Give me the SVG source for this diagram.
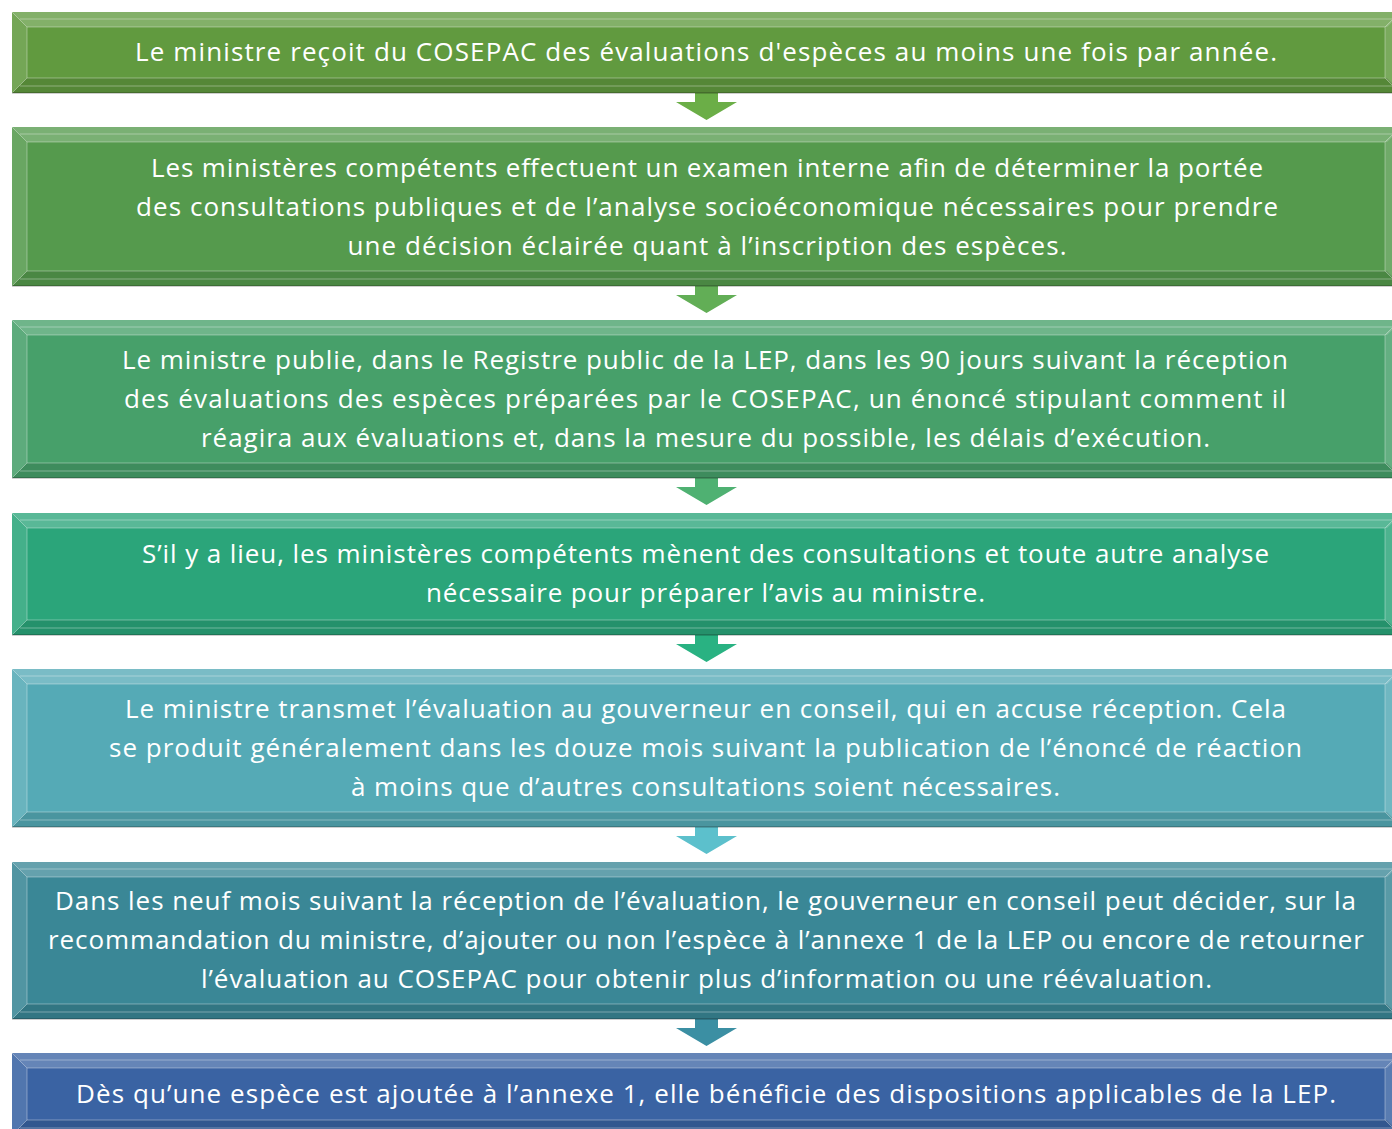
<svg xmlns="http://www.w3.org/2000/svg" width="1392" height="1129" viewBox="0 0 1392 1129">
  <defs>
    <style>
      .txt { font-family: "Open Sans", "Liberation Sans", sans-serif; font-size: 26px; fill: #ffffff; text-anchor: middle; }
      .hi { fill: #ffffff; fill-opacity: 0.22; }
      .lo { fill: #000000; fill-opacity: 0.12; }
      .side { fill: #ffffff; fill-opacity: 0.12; }
      .rside { fill: #ffffff; fill-opacity: 0.16; }
      .ln { stroke: #ffffff; stroke-opacity: 0.35; stroke-width: 1; fill: none; }
      .edge { stroke: #000000; stroke-opacity: 0.25; stroke-width: 1.5; fill: none; }
      .c1 { fill: #619a3f; } .a1 { fill: #6bae47; }
      .c2 { fill: #559a4d; } .a2 { fill: #62ae56; }
      .c3 { fill: #47a06a; } .a3 { fill: #4fb172; }
      .c4 { fill: #2ba57a; } .a4 { fill: #29b282; }
      .c5 { fill: #55aab6; } .a5 { fill: #5cc0cc; }
      .c6 { fill: #3a8796; } .a6 { fill: #3b8fa3; }
      .c7 { fill: #3a63a3; }
    </style>
  </defs>

  <!-- connectors: block arrows between the steps -->
  <g id="connectors">
    <polygon class="a1" points="695,93 718,93 718,102 737,102 706.5,120 676,102 695,102"/>
    <polygon class="a2" points="695,286 718,286 718,295 737,295 706.5,313 676,295 695,295"/>
    <polygon class="a3" points="695,478 718,478 718,487 737,487 706.5,505 676,487 695,487"/>
    <polygon class="a4" points="695,635 718,635 718,644 737,644 706.5,662 676,644 695,644"/>
    <polygon class="a5" points="695,827 718,827 718,836 737,836 706.5,854 676,836 695,836"/>
    <polygon class="a6" points="695,1019 718,1019 718,1028 737,1028 706.5,1046 676,1028 695,1028"/>
  </g>

  <!-- step 1 -->
  <g id="step1">
    <rect class="c1" x="12" y="12" width="1390" height="81"/>
    <polygon class="hi" points="12,12 1402,12 1387,27 27,27"/>
    <polygon class="lo" points="27,78 1387,78 1402,93 12,93"/>
    <polygon class="side" points="12,12 27,27 27,78 12,93"/>
    <polygon class="rside" points="1385,27 1402,12 1402,93 1385,78"/>
    <path class="ln" d="M12,12 L27,27 L27,78 L12,93 M27,27 H1385 V78 H27 M1385,27 L1400,12 M1385,78 L1400,93 M20,19 H1392 M20,86 H1392"/>
    <path class="edge" d="M12,93 H1392"/>
    <text class="txt" x="706" y="61" textLength="1142" lengthAdjust="spacing">Le ministre reçoit du COSEPAC des évaluations d'espèces au moins une fois par année.</text>
  </g>

  <!-- step 2 -->
  <g id="step2">
    <rect class="c2" x="12" y="127" width="1390" height="159"/>
    <polygon class="hi" points="12,127 1402,127 1387,142 27,142"/>
    <polygon class="lo" points="27,271 1387,271 1402,286 12,286"/>
    <polygon class="side" points="12,127 27,142 27,271 12,286"/>
    <polygon class="rside" points="1385,142 1402,127 1402,286 1385,271"/>
    <path class="ln" d="M12,127 L27,142 L27,271 L12,286 M27,142 H1385 V271 H27 M1385,142 L1400,127 M1385,271 L1400,286 M20,134 H1392 M20,279 H1392"/>
    <path class="edge" d="M12,286 H1392"/>
    <text class="txt" x="707" y="177" textLength="1112" lengthAdjust="spacing">Les ministères compétents effectuent un examen interne afin de déterminer la portée</text>
    <text class="txt" x="707" y="216" textLength="1142" lengthAdjust="spacing">des consultations publiques et de l’analyse socioéconomique nécessaires pour prendre</text>
    <text class="txt" x="707" y="255" textLength="719" lengthAdjust="spacing">une décision éclairée quant à l’inscription des espèces.</text>
  </g>

  <!-- step 3 -->
  <g id="step3">
    <rect class="c3" x="12" y="320" width="1390" height="158"/>
    <polygon class="hi" points="12,320 1402,320 1387,335 27,335"/>
    <polygon class="lo" points="27,463 1387,463 1402,478 12,478"/>
    <polygon class="side" points="12,320 27,335 27,463 12,478"/>
    <polygon class="rside" points="1385,335 1402,320 1402,478 1385,463"/>
    <path class="ln" d="M12,320 L27,335 L27,463 L12,478 M27,335 H1385 V463 H27 M1385,335 L1400,320 M1385,463 L1400,478 M20,327 H1392 M20,471 H1392"/>
    <path class="edge" d="M12,478 H1392"/>
    <text class="txt" x="705" y="369" textLength="1166" lengthAdjust="spacing">Le ministre publie, dans le Registre public de la LEP, dans les 90 jours suivant la réception</text>
    <text class="txt" x="705" y="408" textLength="1162" lengthAdjust="spacing">des évaluations des espèces préparées par le COSEPAC, un énoncé stipulant comment il</text>
    <text class="txt" x="705.5" y="447" textLength="1009" lengthAdjust="spacing">réagira aux évaluations et, dans la mesure du possible, les délais d’exécution.</text>
  </g>

  <!-- step 4 -->
  <g id="step4">
    <rect class="c4" x="12" y="513" width="1390" height="122"/>
    <polygon class="hi" points="12,513 1402,513 1387,528 27,528"/>
    <polygon class="lo" points="27,620 1387,620 1402,635 12,635"/>
    <polygon class="side" points="12,513 27,528 27,620 12,635"/>
    <polygon class="rside" points="1385,528 1402,513 1402,635 1385,620"/>
    <path class="ln" d="M12,513 L27,528 L27,620 L12,635 M27,528 H1385 V620 H27 M1385,528 L1400,513 M1385,620 L1400,635 M20,520 H1392 M20,628 H1392"/>
    <path class="edge" d="M12,635 H1392"/>
    <text class="txt" x="705.5" y="563" textLength="1127" lengthAdjust="spacing">S’il y a lieu, les ministères compétents mènent des consultations et toute autre analyse</text>
    <text class="txt" x="705.5" y="602" textLength="559" lengthAdjust="spacing">nécessaire pour préparer l’avis au ministre.</text>
  </g>

  <!-- step 5 -->
  <g id="step5">
    <rect class="c5" x="12" y="669" width="1390" height="158"/>
    <polygon class="hi" points="12,669 1402,669 1387,684 27,684"/>
    <polygon class="lo" points="27,812 1387,812 1402,827 12,827"/>
    <polygon class="side" points="12,669 27,684 27,812 12,827"/>
    <polygon class="rside" points="1385,684 1402,669 1402,827 1385,812"/>
    <path class="ln" d="M12,669 L27,684 L27,812 L12,827 M27,684 H1385 V812 H27 M1385,684 L1400,669 M1385,812 L1400,827 M20,676 H1392 M20,820 H1392"/>
    <path class="edge" d="M12,827 H1392"/>
    <text class="txt" x="705.5" y="718" textLength="1161" lengthAdjust="spacing">Le ministre transmet l’évaluation au gouverneur en conseil, qui en accuse réception. Cela</text>
    <text class="txt" x="705.5" y="757" textLength="1193" lengthAdjust="spacing">se produit généralement dans les douze mois suivant la publication de l’énoncé de réaction</text>
    <text class="txt" x="705.5" y="796" textLength="709" lengthAdjust="spacing">à moins que d’autres consultations soient nécessaires.</text>
  </g>

  <!-- step 6 -->
  <g id="step6">
    <rect class="c6" x="12" y="862" width="1390" height="157"/>
    <polygon class="hi" points="12,862 1402,862 1387,877 27,877"/>
    <polygon class="lo" points="27,1004 1387,1004 1402,1019 12,1019"/>
    <polygon class="side" points="12,862 27,877 27,1004 12,1019"/>
    <polygon class="rside" points="1385,877 1402,862 1402,1019 1385,1004"/>
    <path class="ln" d="M12,862 L27,877 L27,1004 L12,1019 M27,877 H1385 V1004 H27 M1385,877 L1400,862 M1385,1004 L1400,1019 M20,869 H1392 M20,1012 H1392"/>
    <path class="edge" d="M12,1019 H1392"/>
    <text class="txt" x="705.5" y="910" textLength="1301" lengthAdjust="spacing">Dans les neuf mois suivant la réception de l’évaluation, le gouverneur en conseil peut décider, sur la</text>
    <text class="txt" x="706" y="949" textLength="1316" lengthAdjust="spacing">recommandation du ministre, d’ajouter ou non l’espèce à l’annexe 1 de la LEP ou encore de retourner</text>
    <text class="txt" x="706.5" y="988" textLength="1011" lengthAdjust="spacing">l’évaluation au COSEPAC pour obtenir plus d’information ou une réévaluation.</text>
  </g>

  <!-- step 7 -->
  <g id="step7">
    <rect class="c7" x="12" y="1053" width="1390" height="82"/>
    <polygon class="hi" points="12,1053 1402,1053 1387,1068 27,1068"/>
    <polygon class="lo" points="27,1120 1387,1120 1402,1135 12,1135"/>
    <polygon class="side" points="12,1053 27,1068 27,1120 12,1135"/>
    <polygon class="rside" points="1385,1068 1402,1053 1402,1135 1385,1120"/>
    <path class="ln" d="M12,1053 L27,1068 L27,1120 L12,1135 M27,1068 H1385 V1120 H27 M1385,1068 L1400,1053 M1385,1120 L1400,1135 M20,1060 H1392 M20,1128 H1392"/>
    <text class="txt" x="706" y="1103" textLength="1260" lengthAdjust="spacing">Dès qu’une espèce est ajoutée à l’annexe 1, elle bénéficie des dispositions applicables de la LEP.</text>
  </g>
</svg>
